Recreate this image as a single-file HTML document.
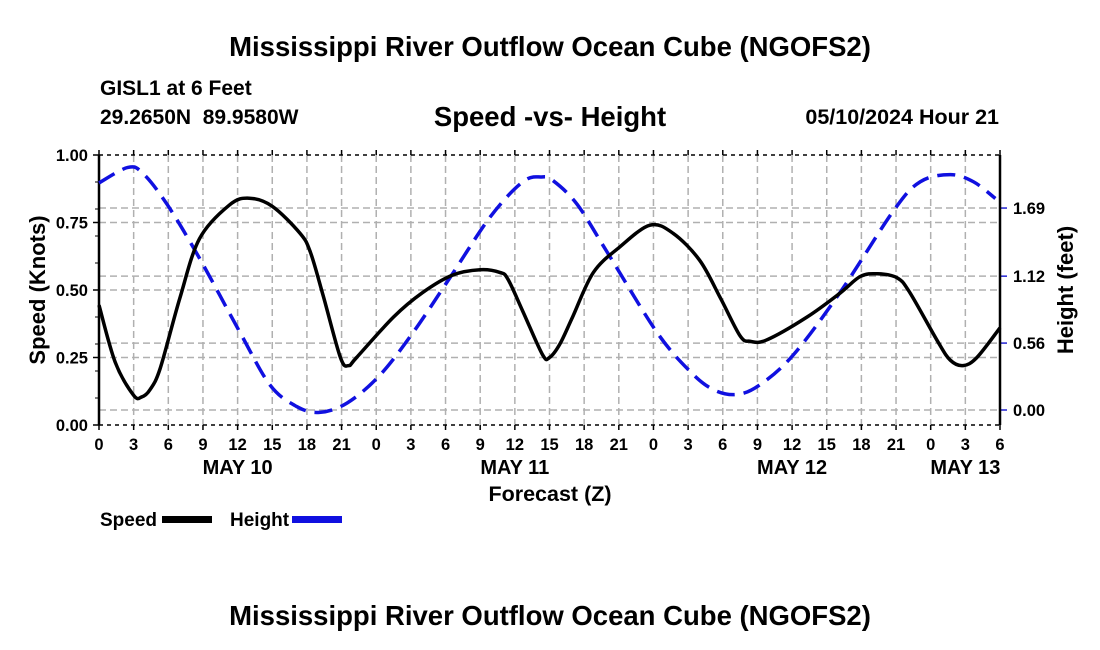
<!DOCTYPE html>
<html><head><meta charset="utf-8">
<style>
body{margin:0;background:#fff;}
svg{display:block;font-family:"Liberation Sans",Arial,sans-serif;font-weight:bold;}
</style></head>
<body>
<svg id="chart" width="1100" height="650" viewBox="0 0 1100 650" xmlns="http://www.w3.org/2000/svg">
<text x="550" y="56" text-anchor="middle" font-size="27.5">Mississippi River Outflow Ocean Cube (NGOFS2)</text>
<text x="100" y="95" font-size="21">GISL1 at 6 Feet</text>
<text x="100" y="124" font-size="21">29.2650N&#160;&#160;89.9580W</text>
<text x="550" y="126" text-anchor="middle" font-size="27.5">Speed -vs- Height</text>
<text x="999" y="124" text-anchor="end" font-size="21.5">05/10/2024 Hour 21</text>
<g id="grid"></g>
<g id="axes"></g>
<g id="series"></g>
<text transform="translate(45,290) rotate(-90)" text-anchor="middle" font-size="22">Speed (Knots)</text>
<text transform="translate(1073,290) rotate(-90)" text-anchor="middle" font-size="22">Height (feet)</text>
<text x="550" y="501" text-anchor="middle" font-size="21.5">Forecast (Z)</text>
<text x="100" y="526" font-size="19">Speed</text>
<rect x="162" y="516" width="50" height="7" fill="#000"/>
<text x="230" y="526" font-size="19">Height</text>
<rect x="292" y="516" width="50" height="7" fill="#1010e0"/>
<text x="550" y="625" text-anchor="middle" font-size="27.5">Mississippi River Outflow Ocean Cube (NGOFS2)</text>
</svg>
<script>
const speedHours=[0,1.4,3,3.7,4.4,5.3,7,8.7,11.3,13,15,17.4,18.3,19.4,20.9,21.6,22.3,25.5,28,30.6,33,34.7,35.4,36.7,38.4,39,39.9,41,42.8,45.1,47.7,49.7,52,53.8,55.5,56.4,57.8,61.3,64.2,65.9,67.4,69.1,70.2,72.6,73.7,74.8,76,78];
const speedValues=[0.444,0.233,0.11,0.104,0.13,0.21,0.47,0.69,0.815,0.84,0.81,0.71,0.64,0.48,0.25,0.22,0.25,0.40,0.49,0.555,0.575,0.565,0.54,0.42,0.26,0.25,0.30,0.40,0.565,0.66,0.74,0.71,0.61,0.47,0.33,0.31,0.315,0.40,0.49,0.55,0.56,0.545,0.49,0.31,0.24,0.22,0.25,0.36];
const heightHours=[0,2.5,3.8,5.9,8.7,12.2,14.8,17.1,19.1,21.5,24.3,27.2,30.4,33.9,36.7,38.3,39.3,41.4,44,48.3,51.2,53.2,55.2,57.2,60.1,64.2,68.8,71.1,73.7,75.7,77.6];
const heightValues=[1.90,2.03,1.98,1.72,1.27,0.65,0.21,0.03,-0.02,0.06,0.29,0.65,1.11,1.62,1.91,1.95,1.92,1.72,1.32,0.65,0.32,0.17,0.13,0.21,0.46,0.99,1.67,1.91,1.97,1.91,1.77];
const speedTicks=[0,0.25,0.5,0.75,1.0];
const speedTickLabels=["0.00","0.25","0.50","0.75","1.00"];
const heightTicks=[0,0.56,1.12,1.69];
const heightTickLabels=["0.00","0.56","1.12","1.69"];
const xTickHours=[0,3,6,9,12,15,18,21,24,27,30,33,36,39,42,45,48,51,54,57,60,63,66,69,72,75,78];
const dayLabels=["MAY 10","MAY 11","MAY 12","MAY 13"];
const dayLabelHours=[12,36,60,75];

const X0=99,X1=1000,YT=155,YB=425,HMAX=78;
const xs=h=>X0+(X1-X0)*h/HMAX;
const ys=v=>YB-(YB-YT)*v;
const yh=f=>410-119.5*f;
const NS="http://www.w3.org/2000/svg";
function mk(tag,attrs,parent){const e=document.createElementNS(NS,tag);for(const k in attrs)e.setAttribute(k,attrs[k]);parent.appendChild(e);return e;}
const grid=document.getElementById('grid'),axes=document.getElementById('axes'),series=document.getElementById('series');

xTickHours.forEach((h,i)=>{
  const x=xs(h);
  if(i>0&&i<xTickHours.length-1){const l=mk('line',{x1:x,x2:x,y1:YT,y2:YB,stroke:'#b0b0b0','stroke-width':1.5,'stroke-dasharray':'7,4'},grid);
  
  }
  const t=mk('line',{x1:x,x2:x,y1:YB,y2:YB+5,stroke:'#000','stroke-width':1.5},axes);
  
  
  const t2=mk('line',{x1:x,x2:x,y1:YT-5,y2:YT,stroke:'#000','stroke-width':1.5},axes);
  
  
  const lb=mk('text',{x:x,y:450,'text-anchor':'middle','font-size':16.5},axes);
  lb.textContent=String(h%24);
  
  
});
dayLabels.forEach((d,i)=>{
  const lb=mk('text',{x:xs(dayLabelHours[i]),y:474,'text-anchor':'middle','font-size':20},axes);
  lb.textContent=d;
  
  
});
speedTicks.forEach((v,i)=>{
  const y=ys(v);
  if(v>0&&v<1){const g=mk('line',{x1:X0,x2:X1,y1:y,y2:y,stroke:'#b0b0b0','stroke-width':1.5,'stroke-dasharray':'7,4'},grid);
  
  }
  const t=mk('line',{x1:X0-6,x2:X0,y1:y,y2:y,stroke:'#000','stroke-width':1.5},axes);
  
  
  const lb=mk('text',{x:88,y:y+6,'text-anchor':'end','font-size':16.5},axes);
  lb.textContent=speedTickLabels[i];
  
  
});
for(let k=1;k<10;k++){const y=ys(k/10);
  const t=mk('line',{x1:X0-4,x2:X0,y1:y,y2:y,stroke:'#000','stroke-width':1},axes);
  
  }
heightTicks.forEach((v,i)=>{
  const y=yh(v);
  const g=mk('line',{x1:X0,x2:X1,y1:y,y2:y,stroke:'#b0b0b0','stroke-width':1.5,'stroke-dasharray':'7,4'},grid);
  
  
  const t=mk('line',{x1:X1,x2:X1+7,y1:y,y2:y,stroke:'#2020d0','stroke-width':1.5},axes);
  
  
  const lb=mk('text',{x:1013,y:y+6,'font-size':16.5},axes);
  lb.textContent=heightTickLabels[i];
  
  
});
[[X0,YT,X1,YT,'top-axis-line'],[X0,YB,X1,YB,'bottom-axis-line']].forEach(a=>{
  const l=mk('line',{x1:a[0],y1:a[1],x2:a[2],y2:a[3],stroke:'#000','stroke-width':1.5,'stroke-dasharray':'4,4'},axes);
  
  
});
[[X0,'left-axis-line'],[X1,'right-axis-line']].forEach(a=>{
  const l=mk('line',{x1:a[0],y1:YT,x2:a[0],y2:YB,stroke:'#000','stroke-width':2.5},axes);
  
  
});
function smoothPath(pts){
  let d=`M${pts[0][0]},${pts[0][1]}`;
  for(let i=0;i<pts.length-1;i++){
    const p0=pts[i-1]||pts[i],p1=pts[i],p2=pts[i+1],p3=pts[i+2]||p2;
    const c1=[p1[0]+(p2[0]-p0[0])/6,p1[1]+(p2[1]-p0[1])/6];
    const c2=[p2[0]-(p3[0]-p1[0])/6,p2[1]-(p3[1]-p1[1])/6];
    d+=` C${c1[0]},${c1[1]} ${c2[0]},${c2[1]} ${p2[0]},${p2[1]}`;
  }
  return d;
}
const hp=mk('path',{d:smoothPath(heightHours.map((h,i)=>[xs(h),yh(heightValues[i])])),fill:'none',stroke:'#1010e0','stroke-width':3.5,'stroke-dasharray':'18,9'},series);


const sp=mk('path',{d:smoothPath(speedHours.map((h,i)=>[xs(h),ys(speedValues[i])])),fill:'none',stroke:'#000','stroke-width':3.5,'stroke-linejoin':'round'},series);


</script>
</body></html>
